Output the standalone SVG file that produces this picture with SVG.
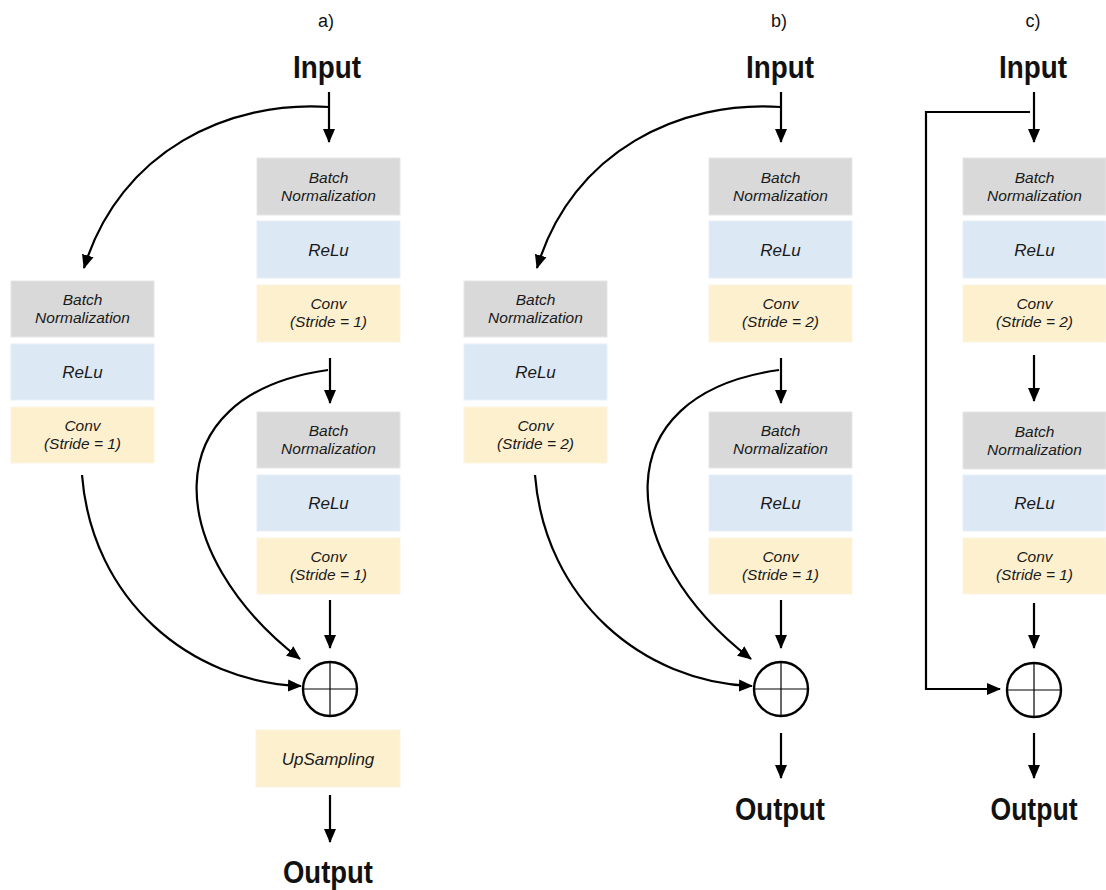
<svg xmlns="http://www.w3.org/2000/svg" width="1106" height="890" viewBox="0 0 1106 890">
<style>
.bn{fill:#d9d9d9;stroke:#e6e6e6;stroke-width:1}
.re{fill:#dde8f5;stroke:#e8eff8;stroke-width:1}
.cv{fill:#fdf0cf;stroke:#fbf4e2;stroke-width:1}
.lb{font-family:"Liberation Sans",Arial,sans-serif;font-style:italic;font-size:15.5px;fill:#1a1a1a;text-anchor:middle}
.lg{font-size:17px}
.big{font-family:"Liberation Sans Narrow","Liberation Sans",Arial,sans-serif;font-weight:bold;font-size:31px;fill:#111;text-anchor:middle}
.tag{font-family:"Liberation Sans",Arial,sans-serif;font-size:18px;fill:#111;text-anchor:middle}
.ln{fill:none;stroke:#000;stroke-width:2.2}
.sum{fill:#fff;stroke:#000;stroke-width:2.4}
.cross{stroke:#000;stroke-width:1.2}
</style>
<defs>
<marker id="ah" markerUnits="userSpaceOnUse" markerWidth="14" markerHeight="14" viewBox="0 0 14 14" refX="13" refY="7" orient="auto">
<path d="M0,1 L14,7 L0,13 Z" fill="#000"/>
</marker>
</defs>

<!-- Panel labels -->
<g id="labels">
<text class="tag" x="326" y="27">a)</text>
<text class="tag" x="779" y="27">b)</text>
<text class="tag" x="1033" y="27">c)</text>
</g>

<!-- Panel a -->
<g id="a-input"><text class="big" x="327" y="78" textLength="68" lengthAdjust="spacingAndGlyphs">Input</text></g>
<g id="a-bn1"><rect class="bn" x="257" y="158" width="143" height="57"/><text class="lb" x="328.5" y="183">Batch</text><text class="lb" x="328.5" y="201">Normalization</text></g>
<g id="a-relu1"><rect class="re" x="257" y="221" width="143" height="57"/><text class="lb lg" x="328.5" y="256">ReLu</text></g>
<g id="a-conv1"><rect class="cv" x="257" y="285" width="143" height="57"/><text class="lb" x="328.5" y="309">Conv</text><text class="lb" x="328.5" y="327">(Stride = 1)</text></g>
<g id="a-bn2"><rect class="bn" x="257" y="412" width="143" height="56"/><text class="lb" x="328.5" y="436">Batch</text><text class="lb" x="328.5" y="454">Normalization</text></g>
<g id="a-relu2"><rect class="re" x="257" y="475" width="143" height="56"/><text class="lb lg" x="328.5" y="509">ReLu</text></g>
<g id="a-conv2"><rect class="cv" x="257" y="538" width="143" height="56"/><text class="lb" x="328.5" y="562">Conv</text><text class="lb" x="328.5" y="580">(Stride = 1)</text></g>
<g id="a-lbn"><rect class="bn" x="11" y="281" width="143" height="56"/><text class="lb" x="82.5" y="305">Batch</text><text class="lb" x="82.5" y="323">Normalization</text></g>
<g id="a-lrelu"><rect class="re" x="11" y="344" width="143" height="56"/><text class="lb lg" x="82.5" y="378">ReLu</text></g>
<g id="a-lconv"><rect class="cv" x="11" y="407" width="143" height="56"/><text class="lb" x="82.5" y="431">Conv</text><text class="lb" x="82.5" y="449">(Stride = 1)</text></g>
<g id="a-sum"><circle class="sum" cx="330" cy="689" r="27"/><line class="cross" x1="303" y1="689" x2="357" y2="689"/><line class="cross" x1="330" y1="662" x2="330" y2="716"/></g>
<g id="a-up"><rect class="cv" x="256" y="730" width="144" height="57"/><text class="lb lg" x="328" y="765">UpSampling</text></g>
<g id="a-output"><text class="big" x="328" y="883" textLength="90" lengthAdjust="spacingAndGlyphs">Output</text></g>

<!-- Panel b -->
<g id="b-input"><text class="big" x="780" y="78" textLength="68" lengthAdjust="spacingAndGlyphs">Input</text></g>
<g id="b-bn1"><rect class="bn" x="709" y="158" width="143" height="57"/><text class="lb" x="780.5" y="183">Batch</text><text class="lb" x="780.5" y="201">Normalization</text></g>
<g id="b-relu1"><rect class="re" x="709" y="221" width="143" height="57"/><text class="lb lg" x="780.5" y="256">ReLu</text></g>
<g id="b-conv1"><rect class="cv" x="709" y="285" width="143" height="57"/><text class="lb" x="780.5" y="309">Conv</text><text class="lb" x="780.5" y="327">(Stride = 2)</text></g>
<g id="b-bn2"><rect class="bn" x="709" y="412" width="143" height="56"/><text class="lb" x="780.5" y="436">Batch</text><text class="lb" x="780.5" y="454">Normalization</text></g>
<g id="b-relu2"><rect class="re" x="709" y="475" width="143" height="56"/><text class="lb lg" x="780.5" y="509">ReLu</text></g>
<g id="b-conv2"><rect class="cv" x="709" y="538" width="143" height="56"/><text class="lb" x="780.5" y="562">Conv</text><text class="lb" x="780.5" y="580">(Stride = 1)</text></g>
<g id="b-lbn"><rect class="bn" x="464" y="281" width="143" height="56"/><text class="lb" x="535.5" y="305">Batch</text><text class="lb" x="535.5" y="323">Normalization</text></g>
<g id="b-lrelu"><rect class="re" x="464" y="344" width="143" height="56"/><text class="lb lg" x="535.5" y="378">ReLu</text></g>
<g id="b-lconv"><rect class="cv" x="464" y="407" width="143" height="56"/><text class="lb" x="535.5" y="431">Conv</text><text class="lb" x="535.5" y="449">(Stride = 2)</text></g>
<g id="b-sum"><circle class="sum" cx="781" cy="689" r="27"/><line class="cross" x1="754" y1="689" x2="808" y2="689"/><line class="cross" x1="781" y1="662" x2="781" y2="716"/></g>
<g id="b-output"><text class="big" x="780" y="820" textLength="90" lengthAdjust="spacingAndGlyphs">Output</text></g>

<!-- Panel c -->
<g id="c-input"><text class="big" x="1033" y="78" textLength="68" lengthAdjust="spacingAndGlyphs">Input</text></g>
<g id="c-bn1"><rect class="bn" x="963" y="158" width="143" height="57"/><text class="lb" x="1034.5" y="183">Batch</text><text class="lb" x="1034.5" y="201">Normalization</text></g>
<g id="c-relu1"><rect class="re" x="963" y="221" width="143" height="57"/><text class="lb lg" x="1034.5" y="256">ReLu</text></g>
<g id="c-conv1"><rect class="cv" x="963" y="285" width="143" height="57"/><text class="lb" x="1034.5" y="309">Conv</text><text class="lb" x="1034.5" y="327">(Stride = 2)</text></g>
<g id="c-bn2"><rect class="bn" x="963" y="412" width="143" height="57"/><text class="lb" x="1034.5" y="437">Batch</text><text class="lb" x="1034.5" y="455">Normalization</text></g>
<g id="c-relu2"><rect class="re" x="963" y="475" width="143" height="56"/><text class="lb lg" x="1034.5" y="509">ReLu</text></g>
<g id="c-conv2"><rect class="cv" x="963" y="538" width="143" height="56"/><text class="lb" x="1034.5" y="562">Conv</text><text class="lb" x="1034.5" y="580">(Stride = 1)</text></g>
<g id="c-sum"><circle class="sum" cx="1034" cy="690" r="27"/><line class="cross" x1="1007" y1="690" x2="1061" y2="690"/><line class="cross" x1="1034" y1="663" x2="1034" y2="717"/></g>
<g id="c-output"><text class="big" x="1034" y="820" textLength="87" lengthAdjust="spacingAndGlyphs">Output</text></g>

<!-- Connectors -->
<g id="connectors">
<!-- a -->
<path class="ln" d="M329,92 V142" marker-end="url(#ah)"/>
<path class="ln" d="M329,107 C230,100 120,150 84,268" marker-end="url(#ah)"/>
<path class="ln" d="M330,358 V403" marker-end="url(#ah)"/>
<path class="ln" d="M328,370 C150,395 165,555 300,659" marker-end="url(#ah)"/>
<path class="ln" d="M330,600 V648" marker-end="url(#ah)"/>
<path class="ln" d="M82,475 C92,600 190,682 301,686" marker-end="url(#ah)"/>
<path class="ln" d="M330,795 V842" marker-end="url(#ah)"/>
<!-- b -->
<path class="ln" d="M781,92 V142" marker-end="url(#ah)"/>
<path class="ln" d="M781,107 C682,100 572,150 537,268" marker-end="url(#ah)"/>
<path class="ln" d="M781,358 V403" marker-end="url(#ah)"/>
<path class="ln" d="M779,370 C601,395 616,555 751,659" marker-end="url(#ah)"/>
<path class="ln" d="M781,600 V648" marker-end="url(#ah)"/>
<path class="ln" d="M535,475 C545,600 643,682 752,686" marker-end="url(#ah)"/>
<path class="ln" d="M781,733 V778" marker-end="url(#ah)"/>
<!-- c -->
<path class="ln" d="M1034,92 V142" marker-end="url(#ah)"/>
<path class="ln" d="M1030,112 H926 V689 H1000" marker-end="url(#ah)"/>
<path class="ln" d="M1034,355 V401" marker-end="url(#ah)"/>
<path class="ln" d="M1034,603 V648" marker-end="url(#ah)"/>
<path class="ln" d="M1034,733 V778" marker-end="url(#ah)"/>
</g>
</svg>
